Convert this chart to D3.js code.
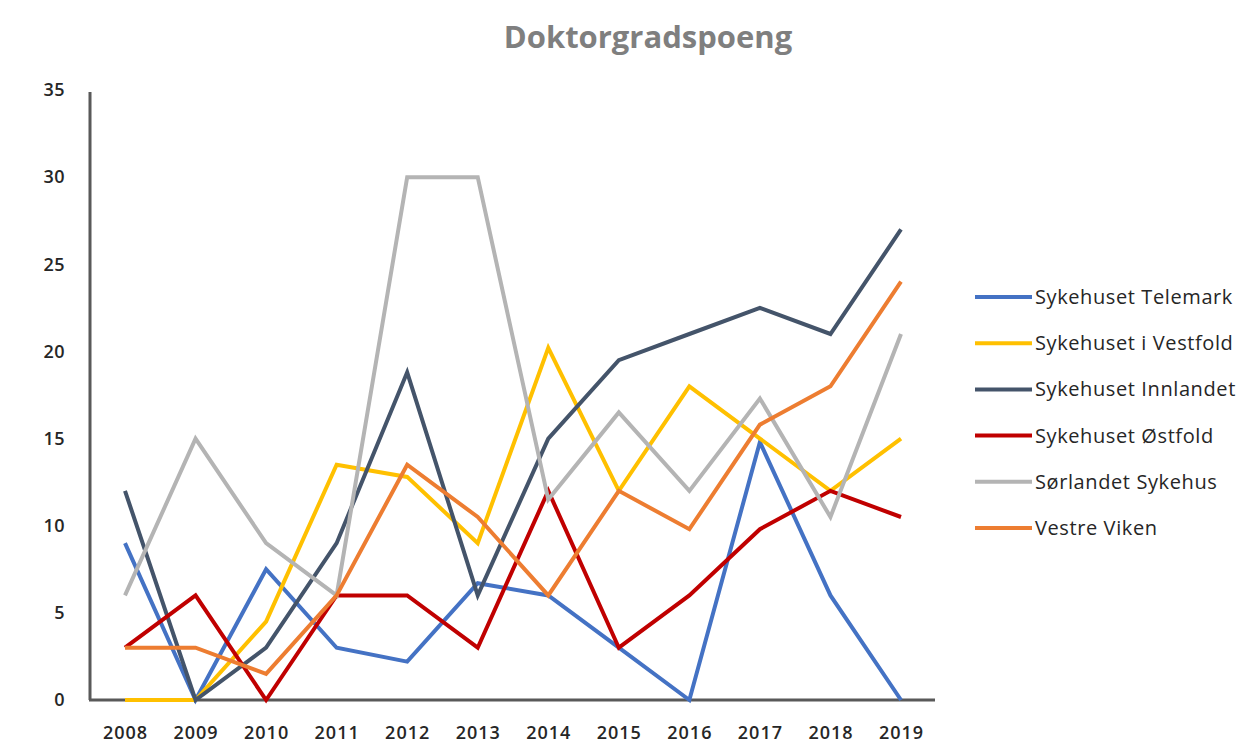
<!DOCTYPE html>
<html>
<head>
<meta charset="utf-8">
<script src="https://cdn.jsdelivr.net/npm/d3@7"></script>
<style>
  body { margin: 0; background: #fff; }
  text { font-family: "Open Sans", "Noto Sans", sans-serif; }
</style>
</head>
<body>
<div class="chart"></div>
<script>
var years = [2008, 2009, 2010, 2011, 2012, 2013, 2014, 2015, 2016, 2017, 2018, 2019];
var yTicks = [0, 5, 10, 15, 20, 25, 30, 35];

var names = ["Sykehuset Telemark", "Sykehuset i Vestfold", "Sykehuset Innlandet",
             "Sykehuset Østfold", "Sørlandet Sykehus", "Vestre Viken"];
var colors = ["#4472C4", "#FFC000", "#44546A", "#C00000", "#B4B4B4", "#ED7D31"];

var telemark   = [9, 0, 7.5, 3, 2.2, 6.7, 6, 3, 0, 14.8, 6, 0];
var vestfold   = [0, 0, 4.5, 13.5, 12.8, 9, 20.2, 12, 18, 15, 12, 15];
var innlandet  = [12, 0, 3, 9, 18.8, 6, 15, 19.5, 21, 22.5, 21, 27];
var ostfold    = [3, 6, 0, 6, 6, 3, 12, 3, 6, 9.8, 12, 10.5];
var sorlandet  = [6, 15, 9, 6, 30, 30, 11.5, 16.5, 12, 17.3, 10.5, 21];
var vestreViken = [3, 3, 1.5, 6, 13.5, 10.5, 6, 12, 9.8, 15.8, 18, 24];

var series = [telemark, vestfold, innlandet, ostfold, sorlandet, vestreViken];

var W = 1245, H = 745;
var svg = d3.select(".chart").append("svg")
    .attr("width", W)
    .attr("height", H);

var x = d3.scalePoint()
    .domain(years)
    .range([125, 901]);
var y = d3.scaleLinear()
    .domain([0, 35])
    .range([700, 90]);

// title
svg.append("text")
    .attr("x", 648)
    .attr("y", 48)
    .attr("text-anchor", "middle")
    .attr("font-size", 31)
    .attr("font-weight", 700)
    .attr("fill", "#7F7F7F")
    .text("Doktorgradspoeng");

// axes
var yAxis = d3.axisLeft(y).tickValues(yTicks).tickSize(0).tickPadding(25);
var gy = svg.append("g")
    .attr("transform", "translate(90,0)")
    .call(yAxis);
gy.select(".domain").attr("stroke", "#595959").attr("stroke-width", 3)
    .attr("d", "M0," + (y(35) + 2) + "V" + y(0));
gy.selectAll("text").attr("font-size", 18).attr("font-weight", 600).attr("fill", "#262626")
    .attr("font-family", "Open Sans").attr("letter-spacing", 0.5);

var xAxis = d3.axisBottom(x).tickSize(0).tickPadding(26);
var gx = svg.append("g")
    .attr("transform", "translate(0,700)")
    .call(xAxis);
gx.select(".domain").attr("stroke", "#595959").attr("stroke-width", 3)
    .attr("d", "M89,0H935");
gx.selectAll("text").attr("font-size", 18).attr("font-weight", 600).attr("fill", "#262626")
    .attr("font-family", "Open Sans").attr("letter-spacing", 1);

// lines
var line = d3.line()
    .x(function (d, i) { return x(years[i]); })
    .y(function (d) { return y(d); });

svg.append("g").selectAll("path")
    .data(series)
    .enter().append("path")
    .attr("d", line)
    .attr("fill", "none")
    .attr("stroke", function (d, i) { return colors[i]; })
    .attr("stroke-width", 4)
    .attr("stroke-linejoin", "miter");

// legend
var legend = svg.append("g").selectAll("g")
    .data(names)
    .enter().append("g")
    .attr("transform", function (d, i) { return "translate(975," + (297 + i * 46.2) + ")"; });
legend.append("line")
    .attr("x1", 0).attr("x2", 57)
    .attr("stroke", function (d, i) { return colors[i]; })
    .attr("stroke-width", 4);
legend.append("text")
    .attr("x", 60)
    .attr("y", 7)
    .attr("font-size", 20)
    .attr("letter-spacing", 0.6)
    .attr("fill", "#262626")
    .text(function (d) { return d; });
</script>
</body>
</html>
